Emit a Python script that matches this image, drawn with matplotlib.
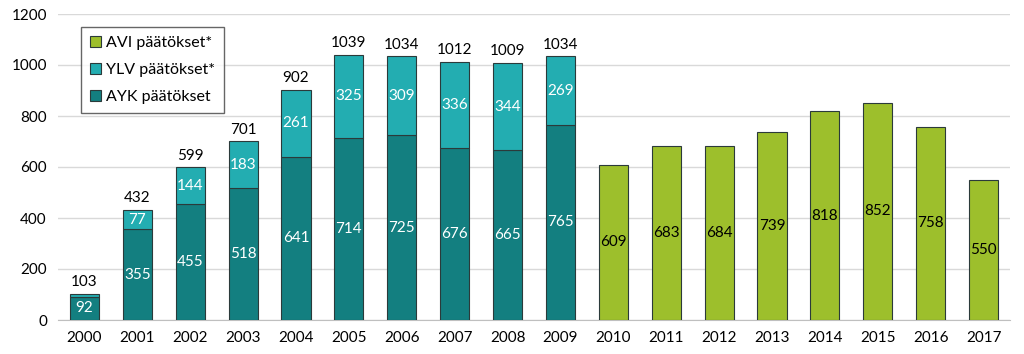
import matplotlib
matplotlib.use("Agg")
import matplotlib.pyplot as plt
import numpy as np

years = [str(y) for y in range(2000, 2018)]
ayk = [92, 355, 455, 518, 641, 714, 725, 676, 665, 765, 0, 0, 0, 0, 0, 0, 0, 0]
ylv = [11, 77, 144, 183, 261, 325, 309, 336, 344, 269, 0, 0, 0, 0, 0, 0, 0, 0]
avi = [0, 0, 0, 0, 0, 0, 0, 0, 0, 0, 609, 683, 684, 739, 818, 852, 758, 550]
totals = [103, 432, 599, 701, 902, 1039, 1034, 1012, 1009, 1034]
ylv_labeled = [False] + [True] * 9

plt.rcParams['font.family'] = ['Lato', 'DejaVu Sans']

c_ayk = '#137f80'
c_ylv = '#23adb1'
c_avi = '#9dbf2c'
edge = '#2b3a3a'

fig = plt.figure(figsize=(10.24, 3.54), dpi=100)
ax = fig.add_axes([58/1024, 34/354, (1010-58)/1024, (320-14)/354])

x = np.arange(len(years))
w = 0.55
ayk_a = np.array(ayk); ylv_a = np.array(ylv); avi_a = np.array(avi)
n = len(totals)
ax.bar(x[:n], ayk_a[:n], w, color=c_ayk, edgecolor=edge, linewidth=0.8, label='AYK päätökset', zorder=3)
ax.bar(x[:n], ylv_a[:n], w, bottom=ayk_a[:n], color=c_ylv, edgecolor=edge, linewidth=0.8, label='YLV päätökset*', zorder=3)
ax.bar(x[n:], avi_a[n:], w, color=c_avi, edgecolor=edge, linewidth=0.8, label='AVI päätökset*', zorder=3)

fs = 11
for i in range(n):
    ax.text(x[i], ayk[i] / 2, str(ayk[i]), ha='center', va='center', color='white', fontsize=fs, zorder=4)
    if ylv_labeled[i]:
        ax.text(x[i], ayk[i] + ylv[i] / 2, str(ylv[i]), ha='center', va='center', color='white', fontsize=fs, zorder=4)
    ax.text(x[i], totals[i] + 18, str(totals[i]), ha='center', va='bottom', color='black', fontsize=fs, zorder=4)
for i in range(n, len(years)):
    ax.text(x[i], avi[i] / 2, str(avi[i]), ha='center', va='center', color='black', fontsize=fs, zorder=4)

ax.set_ylim(0, 1200)
ax.set_yticks(range(0, 1201, 200))
ax.set_xlim(-0.5, len(years) - 0.5)
ax.set_xticks(x)
ax.set_xticklabels(years)
ax.tick_params(axis='both', length=0, labelsize=fs, pad=8)
ax.yaxis.grid(True, color='#d9d9d9', linewidth=1, zorder=0)
ax.set_axisbelow(True)
for s in ['top', 'right', 'left']:
    ax.spines[s].set_visible(False)
ax.spines['bottom'].set_color('#bfbfbf')

handles, labels = ax.get_legend_handles_labels()
order = [2, 1, 0]
leg = ax.legend([handles[i] for i in order], [labels[i] for i in order],
                loc='upper left', bbox_to_anchor=(0.016, 0.982), fontsize=11.5,
                frameon=True, fancybox=False, edgecolor='#404040',
                handlelength=0.7, handleheight=0.7, handletextpad=0.3,
                labelspacing=0.8, borderpad=0.55)
leg.get_frame().set_linewidth(1.0)

fig.savefig('out.png', dpi=100)
